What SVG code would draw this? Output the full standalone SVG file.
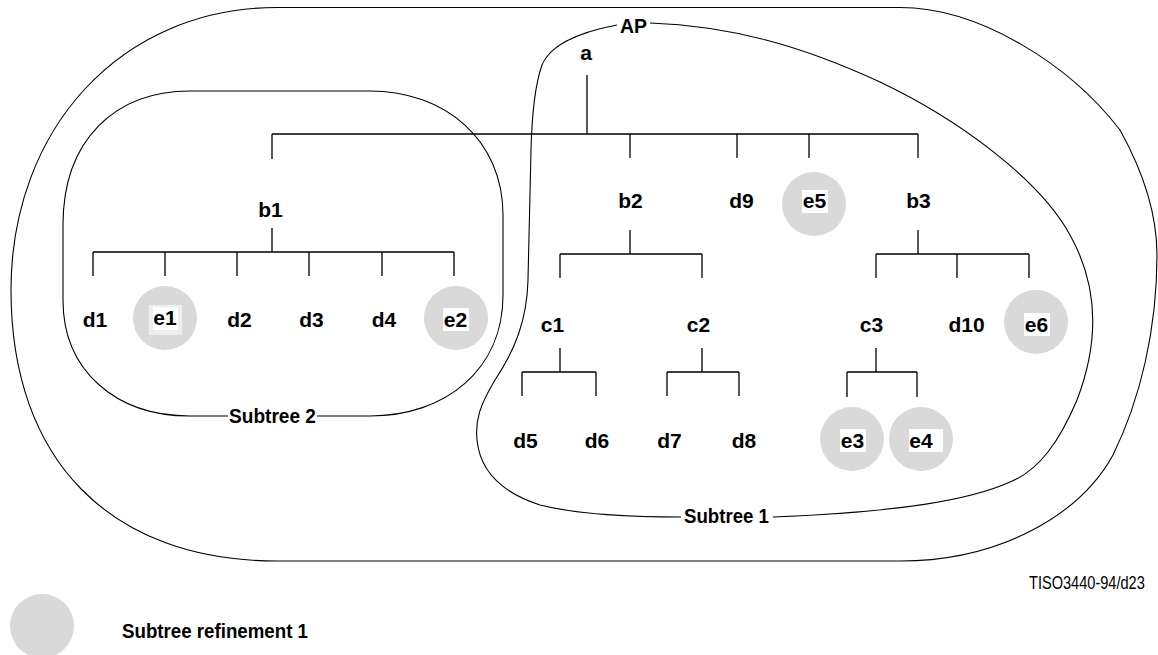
<svg xmlns="http://www.w3.org/2000/svg" width="1158" height="655" viewBox="0 0 1158 655">
<style>
.bg{fill:#ffffff}
.lbl{font-family:"Liberation Sans",Arial,Helvetica,sans-serif;font-weight:bold;font-size:21px;fill:#000;text-anchor:middle}
.reg{font-family:"Liberation Sans",Arial,Helvetica,sans-serif;font-weight:bold;font-size:20px;fill:#000}
.note{font-family:"Liberation Sans",Arial,Helvetica,sans-serif;font-size:18px;fill:#000}
.ref{fill:#d9d9d9;stroke:none}
.wbox{fill:#ffffff;stroke:none}
.tree{fill:none;stroke:#000;stroke-width:1.3}
.bound{fill:none;stroke:#000;stroke-width:1.1}
</style>
<rect class="bg" x="0" y="0" width="1158" height="655"/>

<g id="boundaries">
  <g id="AP">
    <path class="bound" d="M277,7.5 H900 C980,7.5 1070,65 1120,130 C1145,175 1157,215 1157,255 C1157,330 1140,400 1113,455 C1080,515 1000,561 900,561 H277 C110,561 11,460 11,290 C11,130 120,7.5 277,7.5 Z"/>
  </g>
  <g id="subtree1">
    <path class="bound" d="M617,25 C580,32 550,45 542,65 C535,85 532,110 531,150 L528,280 C527,320 515,350 495,380 C480,405 475,420 477,440 C480,470 500,492 540,505 C580,515 640,517 681,517"/>
    <path class="bound" d="M773,517 C900,512 970,500 1010,482 C1040,470 1060,440 1077,400 C1100,340 1098,285 1070,235 C1040,180 960,120 880,82 C800,45 730,26 650,23"/>
    <text class="reg" x="684" y="523" textLength="85" lengthAdjust="spacingAndGlyphs">Subtree 1</text>
  </g>
  <g id="subtree2">
    <path class="bound" d="M317,416 H370 C445,416 503,370 503,295 V215 C503,140 445,91 370,91 H190 C115,91 63,140 63,225 V300 C63,370 115,416 190,416 H228"/>
    <text class="reg" x="229" y="423" textLength="87" lengthAdjust="spacingAndGlyphs">Subtree 2</text>
  </g>
  <text id="AP-label" class="reg" x="620" y="33" font-size="19" textLength="27" lengthAdjust="spacingAndGlyphs">AP</text>
</g>

<g id="connectors">
  <path class="tree" d="M587,75 V134 M272,134 H918 M272,134 V159 M630,134 V158 M737,134 V158 M809,134 V158 M918,134 V158"/>
  <path class="tree" d="M272,228 V252 M93,252 H454 M93,252 V276 M165,252 V276 M237,252 V276 M309,252 V276 M382,252 V276 M454,252 V276"/>
  <path class="tree" d="M630,230 V254 M560,254 H702 M560,254 V278 M702,254 V278"/>
  <path class="tree" d="M918,230 V254 M876,254 H1029 M876,254 V278 M957,254 V278 M1029,254 V278"/>
  <path class="tree" d="M560,348 V372 M522,372 H596 M522,372 V396 M596,372 V396"/>
  <path class="tree" d="M702,348 V372 M667,372 H739 M667,372 V396 M739,372 V396"/>
  <path class="tree" d="M876,348 V372 M847,372 H917 M847,372 V397 M917,372 V397"/>
</g>

<g id="node-a"><text class="lbl" x="586" y="60">a</text></g>
<g id="node-b1"><text class="lbl" x="270.5" y="217">b1</text></g>
<g id="node-b2"><text class="lbl" x="630.5" y="208">b2</text></g>
<g id="node-d9"><text class="lbl" x="741.5" y="208">d9</text></g>
<g id="node-e5"><circle class="ref" cx="814" cy="204" r="32"/><rect class="wbox" x="802" y="190" width="26" height="23"/><text class="lbl" x="814.5" y="208">e5</text></g>
<g id="node-b3"><text class="lbl" x="918.5" y="208">b3</text></g>

<g id="node-d1"><text class="lbl" x="95" y="327">d1</text></g>
<g id="node-e1"><circle class="ref" cx="165" cy="318" r="32"/><rect fill="#eeeeee" x="149" y="305" width="33" height="30"/><rect class="wbox" x="153" y="307" width="25" height="23"/><text class="lbl" x="165" y="325">e1</text></g>
<g id="node-d2"><text class="lbl" x="239.5" y="327">d2</text></g>
<g id="node-d3"><text class="lbl" x="311.5" y="327">d3</text></g>
<g id="node-d4"><text class="lbl" x="384" y="327">d4</text></g>
<g id="node-e2"><circle class="ref" cx="456" cy="318" r="32"/><rect class="wbox" x="443" y="308" width="26" height="23"/><text class="lbl" x="455.5" y="327">e2</text></g>

<g id="node-c1"><text class="lbl" x="552.5" y="332">c1</text></g>
<g id="node-c2"><text class="lbl" x="698.5" y="332">c2</text></g>
<g id="node-c3"><text class="lbl" x="871.5" y="332">c3</text></g>
<g id="node-d10"><text class="lbl" x="966.5" y="332">d10</text></g>
<g id="node-e6"><circle class="ref" cx="1036" cy="322" r="32"/><rect class="wbox" x="1024" y="313" width="26" height="23"/><text class="lbl" x="1036.5" y="332">e6</text></g>

<g id="node-d5"><text class="lbl" x="525.5" y="448">d5</text></g>
<g id="node-d6"><text class="lbl" x="597" y="448">d6</text></g>
<g id="node-d7"><text class="lbl" x="669.5" y="448">d7</text></g>
<g id="node-d8"><text class="lbl" x="744" y="448">d8</text></g>
<g id="node-e3"><circle class="ref" cx="852" cy="439" r="32"/><rect class="wbox" x="840" y="429" width="26" height="23"/><text class="lbl" x="852.5" y="448">e3</text></g>
<g id="node-e4"><circle class="ref" cx="921" cy="439" r="32"/><rect class="wbox" x="909" y="429" width="34" height="23"/><text class="lbl" x="921" y="448">e4</text></g>

<text id="figref" class="note" transform="translate(1029,589) scale(0.81,1)" x="0" y="0">TISO3440-94/d23</text>

<g id="legend">
  <circle class="ref" cx="42" cy="626" r="32"/>
  <text class="reg" x="122" y="638" font-size="21" textLength="186" lengthAdjust="spacingAndGlyphs">Subtree refinement 1</text>
</g>
</svg>
